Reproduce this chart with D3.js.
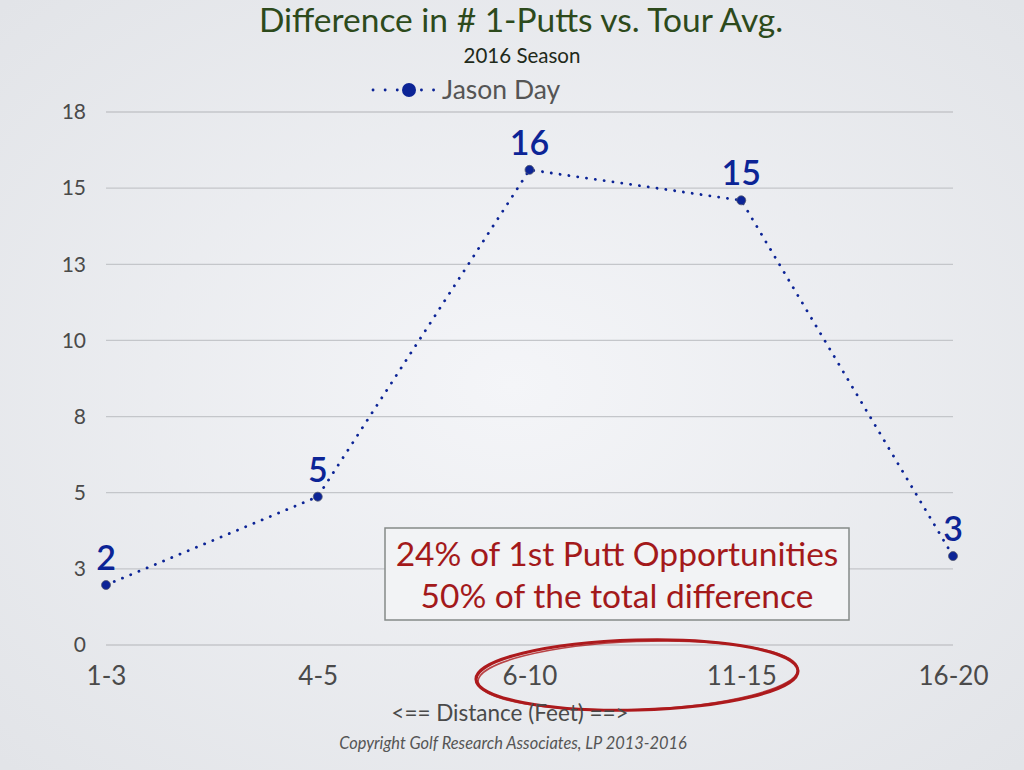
<!DOCTYPE html>
<html>
<head>
<meta charset="utf-8">
<title>Difference in # 1-Putts vs. Tour Avg.</title>
<script src="https://d3js.org/d3.v7.min.js"></script>
<style>
body { margin: 0; background: #eceef1; }
svg { display: block; font-family: Lato, "Open Sans", sans-serif; }
</style>
</head>
<body>
<div id="chart"></div>
<script>
// distance buckets (feet) and Jason Day's difference vs tour avg
var distances = ["1-3", "4-5", "6-10", "11-15", "16-20"];
var diffValues = [1.97, 4.87, 15.6, 14.6, 2.92];
var yTicks = [0, 2.5, 5, 7.5, 10, 12.5, 15, 17.5];
var seriesName = "Jason Day";
var noteLines = ["24% of 1st Putt Opportunities", "50% of the total difference"];

var width = 1024, height = 770;
var blue = "#0c2496";

var svg = d3.select("#chart").append("svg")
    .attr("width", width)
    .attr("height", height);

// soft slide background
var grad = svg.append("defs").append("radialGradient")
    .attr("id", "bg").attr("cx", "50%").attr("cy", "50%").attr("r", "70%");
grad.append("stop").attr("offset", "0%").attr("stop-color", "#f4f5f8");
grad.append("stop").attr("offset", "100%").attr("stop-color", "#e2e4e8");
svg.append("rect").attr("width", width).attr("height", height).attr("fill", "url(#bg)");

var x = d3.scalePoint().domain(distances).range([106, 953]);
var y = d3.scaleLinear().domain([0, 17.5]).range([645, 112]);

// gridlines
svg.append("g").selectAll("line")
    .data(yTicks)
    .enter().append("line")
    .attr("x1", 106).attr("x2", 953)
    .attr("y1", function(d) { return y(d); })
    .attr("y2", function(d) { return y(d); })
    .attr("stroke", "#c4c6ca")
    .attr("stroke-width", 1.3);

// y axis labels (rounded like the original)
var yAxis = d3.axisLeft(y).tickValues(yTicks)
    .tickFormat(function(d) { return Math.round(d); })
    .tickSize(0).tickPadding(0);
var gy = svg.append("g").attr("transform", "translate(86,0)").call(yAxis);
gy.select(".domain").remove();
gy.selectAll("text").attr("font-size", 21).attr("fill", "#4a4a4a")
    .attr("font-family", "Lato, sans-serif");

// x axis labels
var xAxis = d3.axisBottom(x).tickSize(0).tickPadding(0);
var gx = svg.append("g").attr("transform", "translate(0,667)").call(xAxis);
gx.select(".domain").remove();
gx.selectAll("text").attr("font-size", 26).attr("fill", "#4a4a4a")
    .attr("font-family", "Lato, sans-serif");

// annotation box
var box = svg.append("g");
box.append("rect")
    .attr("x", 385).attr("y", 528).attr("width", 464).attr("height", 92)
    .attr("fill", "#f2f3f5").attr("stroke", "#858a88").attr("stroke-width", 1.5);
box.selectAll("text").data(noteLines).enter().append("text")
    .attr("x", 617)
    .attr("y", function(d, i) { return 566 + i * 42; })
    .attr("text-anchor", "middle")
    .attr("font-size", 33.5)
    .attr("fill", "#a3191b")
    .text(function(d) { return d; });

// the line
var line = d3.line()
    .x(function(d, i) { return x(distances[i]); })
    .y(function(d) { return y(d); });

svg.append("path")
    .datum(diffValues)
    .attr("d", line)
    .attr("fill", "none")
    .attr("stroke", blue)
    .attr("stroke-width", 2.8)
    .attr("stroke-linecap", "round")
    .attr("stroke-dasharray", "0.1 8.8");

svg.append("g").selectAll("circle")
    .data(diffValues)
    .enter().append("circle")
    .attr("cx", function(d, i) { return x(distances[i]); })
    .attr("cy", function(d) { return y(d); })
    .attr("r", 4.5)
    .attr("fill", blue)
    .attr("stroke", "#555a70")
    .attr("stroke-width", 0.8);

svg.append("g").selectAll("text")
    .data(diffValues)
    .enter().append("text")
    .attr("x", function(d, i) { return x(distances[i]); })
    .attr("y", function(d) { return y(d) - 15; })
    .attr("text-anchor", "middle")
    .attr("font-size", 34)
    .attr("font-weight", 600)
    .attr("fill", blue)
    .text(function(d) { return Math.round(d); });

// red hand-drawn circle round the middle buckets
var ring = svg.append("g").attr("fill", "none").attr("stroke", "#ad1a1d");
ring.append("ellipse")
    .attr("cx", 637).attr("cy", 675).attr("rx", 161).attr("ry", 35)
    .attr("stroke-width", 3.2)
    .attr("transform", "rotate(-1.5 637 675)");
ring.append("ellipse")
    .attr("cx", 638).attr("cy", 675.5).attr("rx", 160).attr("ry", 34)
    .attr("stroke-width", 1.6).attr("stroke-opacity", 0.8)
    .attr("transform", "rotate(-2.2 638 675.5)");

// titles
svg.append("text")
    .attr("x", 521).attr("y", 32)
    .attr("text-anchor", "middle")
    .attr("font-size", 33.5)
    .attr("fill", "#2d4a1c")
    .text("Difference in # 1-Putts vs. Tour Avg.");
svg.append("text")
    .attr("x", 522).attr("y", 63)
    .attr("text-anchor", "middle")
    .attr("font-size", 20.5)
    .attr("fill", "#1f2a1a")
    .text("2016 Season");

// legend
var lg = svg.append("g");
lg.append("line")
    .attr("x1", 373).attr("x2", 435).attr("y1", 90).attr("y2", 90)
    .attr("stroke", blue).attr("stroke-width", 2.8)
    .attr("stroke-linecap", "round").attr("stroke-dasharray", "0.1 12");
lg.append("circle").attr("cx", 409).attr("cy", 90).attr("r", 7).attr("fill", blue);
lg.append("text")
    .attr("x", 442).attr("y", 99)
    .attr("font-size", 26.5)
    .attr("fill", "#555")
    .text(seriesName);

// axis title and footer
svg.append("text")
    .attr("x", 510).attr("y", 721)
    .attr("text-anchor", "middle")
    .attr("font-size", 22.5)
    .attr("fill", "#4a4a4a")
    .text("<== Distance (Feet) ==>");
svg.append("text")
    .attr("x", 513).attr("y", 749)
    .attr("text-anchor", "middle")
    .attr("font-size", 16.4)
    .attr("font-style", "italic")
    .attr("fill", "#555")
    .text("Copyright Golf Research Associates, LP 2013-2016");
</script>
</body>
</html>
